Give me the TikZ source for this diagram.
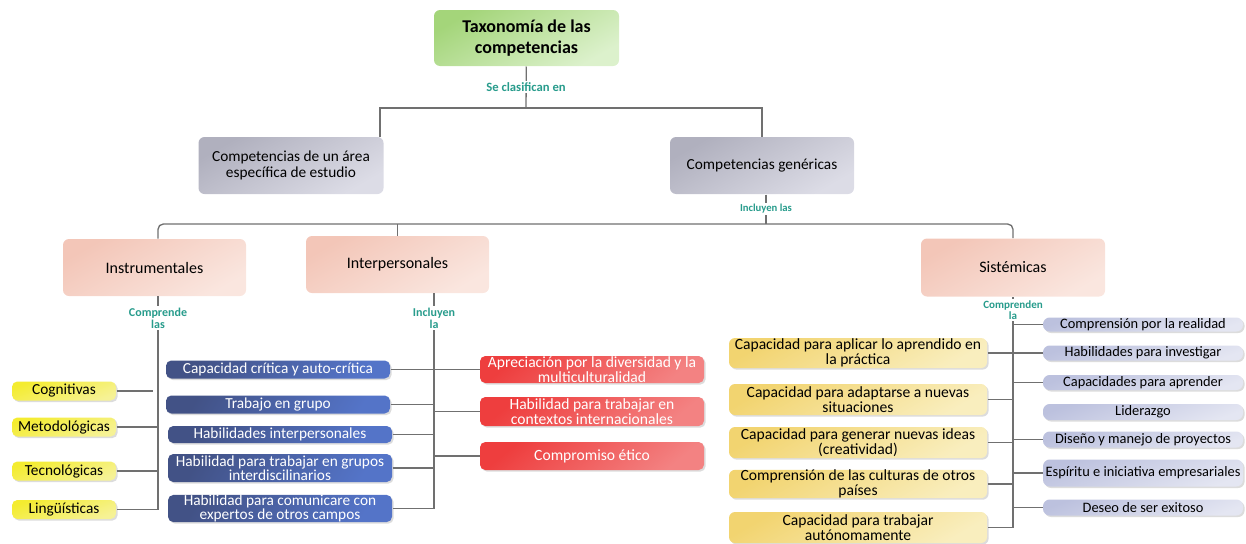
\documentclass[tikz,border=0pt]{standalone}
\usepackage{fontspec}
\setmainfont{Carlito}
\usepackage{tikz}
\usetikzlibrary{shadows}
\definecolor{greenA}{RGB}{164,213,122}
\definecolor{greenB}{RGB}{220,241,204}
\definecolor{grayA}{RGB}{176,176,190}
\definecolor{grayB}{RGB}{220,220,230}
\definecolor{pinkA}{RGB}{243,198,184}
\definecolor{pinkB}{RGB}{250,230,223}
\definecolor{yelA}{RGB}{244,236,48}
\definecolor{yelB}{RGB}{246,242,150}
\definecolor{blueA}{RGB}{66,82,134}
\definecolor{blueB}{RGB}{84,116,200}
\definecolor{redA}{RGB}{238,62,62}
\definecolor{redB}{RGB}{243,130,130}
\definecolor{tanA}{RGB}{242,212,112}
\definecolor{tanB}{RGB}{249,238,190}
\definecolor{lavA}{RGB}{188,193,222}
\definecolor{lavB}{RGB}{228,230,242}
\definecolor{linkgray}{RGB}{112,112,112}
\definecolor{tealtxt}{RGB}{40,156,140}
\tikzset{every picture/.style={line width=0.75pt}}

\begin{document}
\begin{tikzpicture}[x=0.75pt,y=0.75pt,yscale=-1,xscale=1,
  sz/.style 2 args={minimum width=#1*0.75pt, minimum height=#2*0.75pt},
  box/.style={rectangle, rounded corners=4.5pt, inner sep=0pt, align=center, font=\fontsize{11.5}{12.5}\selectfont},
  shd/.style={drop shadow={shadow xshift=1.2pt, shadow yshift=-1.2pt, opacity=0.3, fill=black!45}},
  taxbox/.style={box, top color=greenA, bottom color=greenB, shading angle=30, font=\bfseries\fontsize{13.5}{15.5}\selectfont},
  graybox/.style={box, top color=grayA, bottom color=grayB, shading angle=30},
  pinkbox/.style={box, top color=pinkA, bottom color=pinkB, shading angle=30, font=\fontsize{12}{13}\selectfont},
  yelbox/.style={box, shd, rounded corners=4pt, top color=yelA, bottom color=yelB, shading angle=20},
  bluebox/.style={box, shd, rounded corners=4pt, top color=blueA, bottom color=blueB, shading angle=60, text=white, font=\fontsize{11.5}{10.5}\selectfont},
  redbox/.style={box, shd, rounded corners=4pt, top color=redA, bottom color=redB, shading angle=40, text=white, font=\fontsize{11.7}{11.5}\selectfont},
  tanbox/.style={box, shd, rounded corners=4.5pt, top color=tanA, bottom color=tanB, shading angle=30, font=\fontsize{11.7}{11.2}\selectfont},
  lavbox/.style={box, shd, rounded corners=5pt, top color=lavA, bottom color=lavB, shading angle=20, font=\fontsize{10.8}{11}\selectfont},
  link/.style={draw=linkgray, line width=1pt},
  lbl/.style={fill=white, text=tealtxt, inner sep=1pt, align=center, font=\bfseries\fontsize{7.5}{7.5}\selectfont}]
\useasboundingbox (0,0) rectangle (1246,543);

%Shape: Rounded Rect (top and second level)
\node[taxbox, sz={185}{56}] (tax) at (526.5,38) {Taxonomía de las\\competencias};
\node[graybox, sz={185}{57}] (spec) at (291,165.5) {Competencias de un área\\específica de estudio};
\node[graybox, sz={184}{57}] (gen) at (762,165.5) {Competencias genéricas};

%Shape: Rounded Rect (generic groups)
\node[pinkbox, sz={183}{57}] (instr) at (154.5,267.5) {Instrumentales};
\node[pinkbox, sz={183}{57}] (inter) at (397.5,264.5) {Interpersonales};
\node[pinkbox, sz={184}{58}] (sist) at (1013,267.5) {Sistémicas};

%Shape: instrumentales
\node[yelbox, sz={104}{19}] (cogn) at (64,391) {Cognitivas};
\node[yelbox, sz={104}{19}] (metod) at (64,427) {Metodológicas};
\node[yelbox, sz={104}{19}] (tecno) at (64,471) {Tecnológicas};
\node[yelbox, sz={104}{19}] (lingu) at (64,509.5) {Lingüísticas};

%Shape: interpersonales
\node[bluebox, sz={224}{18}] (crit) at (278,369.5) {Capacidad crítica y auto-crítica};
\node[bluebox, sz={224}{18}] (grupo) at (278,404.5) {Trabajo en grupo};
\node[bluebox, sz={224}{17}] (interp) at (280,434.5) {Habilidades interpersonales};
\node[bluebox, sz={224}{28}] (multi) at (280,468) {Habilidad para trabajar en grupos\\interdiscilinarios};
\node[bluebox, sz={224}{25}] (comun) at (280,508.5) {Habilidad para comunicare con\\expertos de otros campos};
\node[redbox, sz={224}{27}] (aprec) at (592,369.5) {Apreciación por la diversidad y la\\multiculturalidad};
\node[redbox, sz={224}{29}] (intl) at (592,411.5) {Habilidad para trabajar en\\contextos internacionales};
\node[redbox, sz={224}{28}] (etico) at (592,456) {Compromiso ético};

%Shape: sistemicas
\node[tanbox, sz={258}{30}] (aplic) at (858,353) {Capacidad para aplicar lo aprendido en\\la práctica};
\node[tanbox, sz={258}{31}] (adapt) at (858,399.5) {Capacidad para adaptarse a nuevas\\situaciones};
\node[tanbox, sz={258}{31}] (ideas) at (858,442.5) {Capacidad para generar nuevas ideas\\(creatividad)};
\node[tanbox, sz={258}{28}] (cult) at (858,484) {Comprensión de las culturas de otros\\países};
\node[tanbox, sz={258}{31}] (auton) at (858,527.5) {Capacidad para trabajar\\autónomamente};
\node[lavbox, sz={200}{14}] (real) at (1143,324.5) {Comprensión por la realidad};
\node[lavbox, sz={200}{15}] (invest) at (1143,353) {Habilidades para investigar};
\node[lavbox, sz={200}{15}] (aprend) at (1143,382.5) {Capacidades para aprender};
\node[lavbox, sz={200}{16}] (lider) at (1143,412) {Liderazgo};
\node[lavbox, sz={200}{16}] (proy) at (1143,439.5) {Diseño y manejo de proyectos};
\node[lavbox, sz={200}{27}] (empr) at (1143,473) {Espíritu e iniciativa empresariales};
\node[lavbox, sz={200}{16}] (exito) at (1143,507.5) {Deseo de ser exitoso};

%Straight Lines (tree)
\coordinate (b1) at (526,108);
\coordinate (b2) at (766,224);
\draw[link] (tax) -- (b1);
\draw[link] ([shift={(-4,0)}]spec.north east) |- (b1) -| (gen.north);
\draw[link] (gen.south -| b2) -- (b2);
\coordinate (ivert) at (158,296);
\coordinate (pvert) at (434,293);
\draw[link, rounded corners=4pt] (instr.north -| ivert) |- (b2) -| (sist.north);
\draw[link] (inter.north) -- (inter.north |- b2);

%Straight Lines (instrumentales)
\coordinate (cgend) at (153,391);
\draw[link] (ivert) |- (lingu.east);
\draw[link] (cogn.east) -- (cgend);
\draw[link] (metod.east) -- (metod.east -| ivert);
\draw[link] (tecno.east) -- (tecno.east -| ivert);

%Straight Lines (interpersonales)
\draw[link] (pvert) |- (comun.east);
\draw[link] (crit.east) -- (aprec.west);
\draw[link] (grupo.east) -- (grupo.east -| pvert);
\draw[link] (interp.east) -- (interp.east -| pvert);
\draw[link] (multi.east) -- (multi.east -| pvert);
\draw[link] (intl.west) -- (intl.west -| pvert);
\draw[link] (etico.west) -- (etico.west -| pvert);

%Straight Lines (sistemicas)
\draw[link] (sist.south) |- (auton.east);
\draw[link] (real.west) -- (real.west -| sist.south);
\draw[link] (aplic.east) -- (invest.west);
\draw[link] (adapt.east) -- (adapt.east -| sist.south);
\draw[link] (ideas.east) -- (ideas.east -| sist.south);
\draw[link] (cult.east) -- (cult.east -| sist.south);
\draw[link] (aprend.west) -- (aprend.west -| sist.south);
\draw[link] (proy.west) -- (proy.west -| sist.south);
\draw[link] (empr.west) -- (empr.west -| sist.south);
\draw[link] (exito.west) -- (exito.west -| sist.south);

% Text Node
\node[lbl, font=\bfseries\fontsize{9.5}{9.5}\selectfont] (clas) at (526,87) {Se clasifican en};
% Text Node
\node[lbl, font=\bfseries\fontsize{8}{8}\selectfont] (incl) at (766,209) {Incluyen las};
% Text Node
\node[lbl, font=\bfseries\fontsize{9}{9}\selectfont] (comp) at (158,318) {Comprende\\las};
% Text Node
\node[lbl, font=\bfseries\fontsize{9}{9}\selectfont] (incla) at (434,318) {Incluyen\\la};
% Text Node
\node[lbl, font=\bfseries\fontsize{8.3}{8}\selectfont] (compla) at (1013,310) {Comprenden\\la};

\end{tikzpicture}
\end{document}
